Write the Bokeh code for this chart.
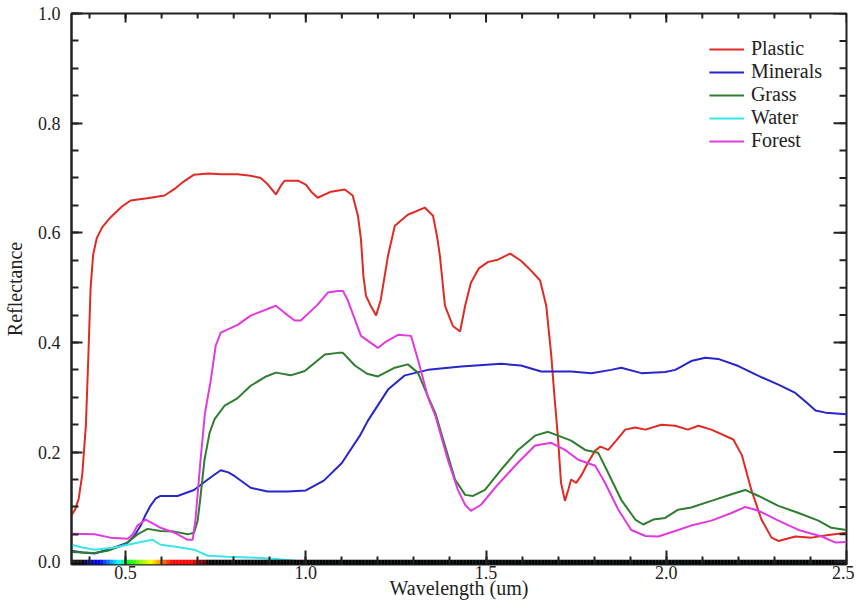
import numpy as np
from bokeh.plotting import figure
from bokeh.models import (Range1d, LinearAxis, FixedTicker, PrintfTickFormatter,
                          Legend, LegendItem)
from bokeh.embed import file_html
from bokeh.resources import INLINE

# ---------------- data ----------------
plastic_wl = [0.35, 0.36, 0.37, 0.38, 0.39, 0.397, 0.403, 0.41, 0.42, 0.435, 0.458, 0.49, 0.514,
              0.56, 0.608, 0.636, 0.66, 0.69, 0.73, 0.764, 0.81, 0.847, 0.875, 0.895, 0.917,
              0.93, 0.941, 0.978, 1.0, 1.015, 1.033, 1.07, 1.108, 1.13, 1.145, 1.153, 1.16,
              1.167, 1.18, 1.195, 1.208, 1.228, 1.247, 1.283, 1.33, 1.353, 1.365, 1.372, 1.386,
              1.408, 1.428, 1.442, 1.458, 1.48, 1.506, 1.533, 1.567, 1.597, 1.625, 1.65, 1.667,
              1.681, 1.69, 1.7, 1.708, 1.719, 1.728, 1.736, 1.75, 1.764, 1.783, 1.803, 1.817,
              1.839, 1.861, 1.886, 1.914, 1.942, 1.986, 2.025, 2.06, 2.089, 2.125, 2.186, 2.21,
              2.236, 2.264, 2.292, 2.311, 2.358, 2.403, 2.45, 2.5]
plastic_r = [0.085, 0.095, 0.115, 0.16, 0.25, 0.38, 0.5, 0.56, 0.59, 0.61, 0.628, 0.648, 0.659,
             0.663, 0.668, 0.68, 0.693, 0.706, 0.708, 0.707, 0.707, 0.704, 0.70, 0.688, 0.67,
             0.685, 0.695, 0.695, 0.688, 0.675, 0.664, 0.675, 0.679, 0.668, 0.63, 0.588, 0.52,
             0.485, 0.467, 0.449, 0.478, 0.558, 0.613, 0.633, 0.646, 0.631, 0.59, 0.558, 0.467,
             0.43, 0.42, 0.467, 0.509, 0.535, 0.547, 0.551, 0.562, 0.549, 0.531, 0.513, 0.467,
             0.376, 0.30, 0.223, 0.144, 0.111, 0.131, 0.15, 0.144, 0.157, 0.181, 0.203, 0.21,
             0.204, 0.221, 0.241, 0.245, 0.241, 0.25, 0.248, 0.241, 0.248, 0.241, 0.223, 0.194,
             0.131, 0.077, 0.044, 0.038, 0.046, 0.044, 0.049, 0.053]

minerals_wl = [0.35, 0.38, 0.414, 0.44, 0.469, 0.506, 0.525, 0.542, 0.555, 0.569, 0.583, 0.597,
               0.644, 0.69, 0.728, 0.764, 0.785, 0.803, 0.847, 0.894, 0.95, 1.0, 1.05, 1.1, 1.15,
               1.172, 1.228, 1.275, 1.339, 1.431, 1.542, 1.597, 1.653, 1.736, 1.792, 1.847,
               1.875, 1.931, 1.997, 2.025, 2.053, 2.069, 2.108, 2.144, 2.2, 2.256, 2.311, 2.358,
               2.39, 2.414, 2.442, 2.5]
minerals_r = [0.02, 0.017, 0.015, 0.02, 0.026, 0.035, 0.048, 0.066, 0.085, 0.102, 0.115, 0.12,
              0.12, 0.131, 0.15, 0.167, 0.163, 0.156, 0.135, 0.128, 0.128, 0.13, 0.148, 0.18, 0.23,
              0.257, 0.314, 0.34, 0.35, 0.356, 0.361, 0.358, 0.347, 0.347, 0.344, 0.35,
              0.354, 0.344, 0.346, 0.35, 0.36, 0.366, 0.372, 0.37, 0.357, 0.339, 0.323, 0.308,
              0.29, 0.276, 0.272, 0.269]

grass_wl = [0.35, 0.414, 0.45, 0.497, 0.533, 0.561, 0.597, 0.636, 0.672, 0.69, 0.70, 0.706,
            0.719, 0.733, 0.747, 0.775, 0.81, 0.847, 0.89, 0.917, 0.958, 0.997, 1.053, 1.089,
            1.103, 1.136, 1.17, 1.2, 1.247, 1.283, 1.311, 1.34, 1.36, 1.386, 1.414, 1.442,
            1.464, 1.497, 1.542, 1.589, 1.636, 1.672, 1.7, 1.736, 1.775, 1.811, 1.839, 1.875,
            1.914, 1.936, 1.964, 1.997, 2.033, 2.069, 2.125, 2.181, 2.219, 2.256, 2.311, 2.367,
            2.422, 2.458, 2.5]
grass_r = [0.018, 0.016, 0.02, 0.031, 0.05, 0.06, 0.056, 0.055, 0.05, 0.053, 0.075, 0.108,
           0.186, 0.235, 0.26, 0.285, 0.298, 0.321, 0.338, 0.345, 0.34, 0.348, 0.378, 0.381,
           0.381, 0.358, 0.343, 0.338, 0.354, 0.36, 0.345, 0.30, 0.27, 0.212, 0.15, 0.122,
           0.12, 0.131, 0.168, 0.204, 0.23, 0.237, 0.23, 0.221, 0.204, 0.199, 0.162, 0.113,
           0.077, 0.068, 0.077, 0.08, 0.095, 0.099, 0.111, 0.123, 0.131, 0.12, 0.102, 0.089,
           0.075, 0.062, 0.058]

water_wl = [0.35, 0.38, 0.414, 0.47, 0.506, 0.542, 0.575, 0.597, 0.644, 0.69, 0.728, 0.783,
            0.875, 0.917, 0.97, 1.0, 1.5, 2.0, 2.5]
water_r = [0.031, 0.026, 0.022, 0.026, 0.031, 0.036, 0.04, 0.031, 0.027, 0.022, 0.011, 0.009,
           0.007, 0.005, 0.002, 0.001, 0.0, 0.0, 0.0]

forest_wl = [0.35, 0.414, 0.458, 0.506, 0.52, 0.533, 0.556, 0.58, 0.597, 0.636, 0.672, 0.686,
             0.694, 0.708, 0.72, 0.736, 0.75, 0.764, 0.811, 0.847, 0.917, 0.941, 0.969, 0.986,
             1.033, 1.061, 1.089, 1.103, 1.117, 1.153, 1.2, 1.219, 1.256, 1.292, 1.311, 1.339,
             1.36, 1.394, 1.422, 1.442, 1.458, 1.486, 1.533, 1.589, 1.636, 1.681, 1.719, 1.756,
             1.803, 1.83, 1.867, 1.903, 1.942, 1.978, 2.033, 2.069, 2.125, 2.181, 2.219, 2.256,
             2.311, 2.367, 2.431, 2.47, 2.5]
forest_r = [0.051, 0.05, 0.044, 0.042, 0.05, 0.066, 0.077, 0.068, 0.062, 0.053, 0.04, 0.04,
            0.077, 0.186, 0.27, 0.33, 0.394, 0.418, 0.432, 0.449, 0.467, 0.454, 0.44, 0.44,
            0.469, 0.491, 0.494, 0.494, 0.476, 0.412, 0.39, 0.4, 0.414, 0.412, 0.369, 0.30,
            0.265, 0.186, 0.131, 0.104, 0.093, 0.104, 0.141, 0.181, 0.212, 0.217, 0.204, 0.186,
            0.175, 0.144, 0.095, 0.058, 0.047, 0.046, 0.058, 0.066, 0.075, 0.089, 0.1, 0.093,
            0.075, 0.058, 0.046, 0.035, 0.036]

series_names = ["Plastic", "Minerals", "Grass", "Water", "Forest"]
series_colors = ["#e02a24", "#2626cc", "#2f7d2f", "#38e6ee", "#e03ae0"]
series_wl = [plastic_wl, minerals_wl, grass_wl, water_wl, forest_wl]
series_r = [plastic_r, minerals_r, grass_r, water_r, forest_r]

x_major = [0.5, 1.0, 1.5, 2.0, 2.5]
x_minor = [round(0.4 + 0.1 * i, 2) for i in range(21)]
y_major = [0.0, 0.2, 0.4, 0.6, 0.8, 1.0]
y_minor = [round(0.05 * i, 2) for i in range(21)]

X0, X1 = 0.35, 2.5
Y0, Y1 = -0.005, 1.0

FONT = "Liberation Serif"
INK = "#222222"


def wl_color(um):
    nm = um * 1000.0
    if 385 <= nm < 430:
        r, g, b = 0.0, 0.0, 0.35 + 0.65 * (nm - 385) / 45.0
    elif 430 <= nm < 480:
        r, g, b = 0.0, (nm - 430) / 50.0, 1.0
    elif 480 <= nm < 510:
        r, g, b = 0.0, 1.0, (510 - nm) / 30.0
    elif 510 <= nm < 570:
        r, g, b = (nm - 510) / 60.0, 1.0, 0.0
    elif 570 <= nm < 630:
        r, g, b = 1.0, (630 - nm) / 60.0, 0.0
    elif 630 <= nm < 680:
        r, g, b = 1.0, 0.0, 0.0
    elif 680 <= nm < 735:
        r, g, b = (735 - nm) / 55.0, 0.0, 0.0
    else:
        r, g, b = 0.0, 0.0, 0.0
    return "#%02x%02x%02x" % (int(255 * r), int(255 * g), int(255 * b))


FW, FH = 775, 551
p = figure(frame_width=FW, frame_height=FH, output_backend="svg", toolbar_location=None,
           x_range=Range1d(X0, X1), y_range=Range1d(Y0, Y1),
           x_axis_location=None, y_axis_location=None,
           min_border_left=66, min_border_right=8, min_border_top=13, min_border_bottom=38,
           background_fill_color="white", border_fill_color="white")
p.outline_line_color = INK
p.outline_line_width = 2
p.xgrid.visible = False
p.ygrid.visible = False

renderers = []
for wl, rv, c in zip(series_wl, series_r, series_colors):
    renderers.append(p.line(wl, rv, line_color=c, line_width=2))

# spectrum bar along the bottom axis
bar_left = np.round(np.arange(X0, X1, 0.004), 4)
bar_colors = [wl_color(v + 0.002) for v in bar_left]
p.quad(left=bar_left, right=bar_left + 0.0045, bottom=Y0, top=0.0038,
       fill_color=bar_colors, line_color=None)

# mirrored ticks on the top and right edges (lengths in pixels converted to data units)
xpx = (X1 - X0) / FW
ypx = (Y1 - Y0) / FH
p.segment(x0=x_minor, y0=[Y1] * len(x_minor), x1=x_minor, y1=[Y1 - 5 * ypx] * len(x_minor),
          line_color=INK, line_width=2)
p.segment(x0=x_major, y0=[Y1] * len(x_major), x1=x_major, y1=[Y1 - 9 * ypx] * len(x_major),
          line_color=INK, line_width=2)
p.segment(x0=[X1] * len(y_minor), y0=y_minor, x1=[X1 - 7 * xpx] * len(y_minor), y1=y_minor,
          line_color=INK, line_width=2)
p.segment(x0=[X1] * len(y_major), y0=y_major, x1=[X1 - 13 * xpx] * len(y_major), y1=y_major,
          line_color=INK, line_width=2)


def make_axis(ticks, minor, major_in, minor_in, line_color=INK):
    ax = LinearAxis(ticker=FixedTicker(ticks=ticks, minor_ticks=minor),
                    formatter=PrintfTickFormatter(format="%.1f"))
    ax.major_tick_in = major_in
    ax.major_tick_out = 0
    ax.minor_tick_in = minor_in
    ax.minor_tick_out = 0
    ax.axis_line_color = line_color
    ax.axis_line_width = 2
    ax.major_tick_line_color = INK
    ax.minor_tick_line_color = INK
    ax.major_tick_line_width = 2
    ax.minor_tick_line_width = 2
    ax.major_label_text_font = FONT
    ax.major_label_text_color = INK
    ax.major_label_text_font_size = "18px"
    ax.axis_label_text_font = FONT
    ax.axis_label_text_font_size = "20px"
    ax.axis_label_text_font_style = "normal"
    ax.axis_label_text_color = INK
    return ax


bottom = make_axis(x_major, x_minor, 14, 8, line_color=None)
bottom.major_label_standoff = 1
bottom.axis_label = "Wavelength (um)"
bottom.axis_label_standoff = -5
p.add_layout(bottom, "below")

left = make_axis(y_major, y_minor, 11, 7)
left.major_label_standoff = 11
left.axis_label = "Reflectance"
left.axis_label_standoff = 9
p.add_layout(left, "left")

legend = Legend(items=[LegendItem(label=n, renderers=[r]) for n, r in zip(series_names, renderers)],
                location="top_right", padding=0, margin=24, spacing=0,
                glyph_width=35, glyph_height=22, label_height=22, label_standoff=7,
                label_text_font=FONT, label_text_font_size="20px", label_text_color=INK,
                border_line_color=None, background_fill_alpha=0)
p.add_layout(legend)

open("out.html", "w").write(file_html(p, INLINE))
